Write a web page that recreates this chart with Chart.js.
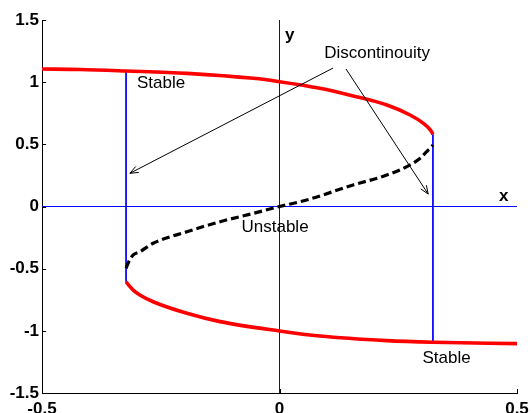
<!DOCTYPE html>
<html>
<head>
<meta charset="utf-8">
<script src="https://cdn.jsdelivr.net/npm/chart.js@4/dist/chart.umd.min.js"></script>
<style>
  html, body { margin: 0; padding: 0; background: #ffffff; }
  #wrap { width: 531px; height: 413px; position: relative; }
</style>
</head>
<body>
<div id="wrap"><canvas id="chart"></canvas></div>
<script>
// Axis ticks
const xTicks = [-0.5, 0, 0.5];
const yTicks = [-1.5, -1, -0.5, 0, 0.5, 1, 1.5];

// Upper stable branch
const upperX = [-0.5, -0.42, -0.323, -0.195, -0.055, 0, 0.085, 0.155, 0.226, 0.275, 0.303, 0.313, 0.320, 0.323];
const upperY = [1.106, 1.102, 1.09, 1.071, 1.031, 1.004, 0.951, 0.889, 0.816, 0.736, 0.669, 0.635, 0.602, 0.58];

// Middle unstable branch
const middleX = [-0.323, -0.318, -0.308, -0.294, -0.266, -0.195, -0.125, -0.055, 0, 0.057, 0.155, 0.226, 0.275, 0.296, 0.313, 0.320, 0.323];
const middleY = [-0.497, -0.45, -0.39, -0.364, -0.296, -0.203, -0.122, -0.055, 0, 0.052, 0.173, 0.253, 0.334, 0.388, 0.454, 0.48, 0.495];

// Lower stable branch
const lowerX = [-0.323, -0.318, -0.308, -0.294, -0.266, -0.195, -0.125, 0, 0.085, 0.226, 0.323, 0.5];
const lowerY = [-0.605, -0.631, -0.672, -0.712, -0.766, -0.859, -0.926, -1.001, -1.042, -1.079, -1.092, -1.103];

// Jump lines at the two fold points
const jumpLeftX = [-0.323, -0.323];
const jumpLeftY = [1.09, -0.605];
const jumpRightX = [0.323, 0.323];
const jumpRightY = [0.58, -1.092];

// Coordinate axes through the origin
const xAxisLineX = [-0.5, 0.5];
const xAxisLineY = [0, 0];
const yAxisLineX = [0, 0];
const yAxisLineY = [-1.5, 1.5];

// Annotation arrows (tail -> head)
const arrowFromX = [0.113, 0.14];
const arrowFromY = [1.114, 1.106];
const arrowToX = [-0.315, 0.313];
const arrowToY = [0.267, 0.10];

// Text annotations
const noteText = ['Stable', 'Discontinouity', 'Unstable', 'Stable', 'y', 'x'];
const noteX = [-0.3, 0.094, -0.08, 0.301, 0.0116, 0.462];
const noteY = [0.993, 1.235, -0.165, -1.219, 1.38, 0.085];
const noteBold = [false, false, false, false, true, true];

const pts = (xs, ys) => xs.map((x, i) => ({ x: x, y: ys[i] }));

const FONT = '"Liberation Sans", Arial, Helvetica, sans-serif';

const lineBase = { showLine: true, pointRadius: 0, pointHoverRadius: 0, fill: false };

const datasets = [];
arrowFromX.forEach((_, i) => {
  datasets.push(Object.assign({}, lineBase, {
    label: 'arrow' + i,
    data: pts([arrowFromX[i], arrowToX[i]], [arrowFromY[i], arrowToY[i]]),
    borderColor: '#000000', borderWidth: 1, order: 0
  }));
});
datasets.push(Object.assign({}, lineBase, {
  label: 'unstable', data: pts(middleX, middleY),
  borderColor: '#000000', borderWidth: 3.2, borderDash: [8, 4],
  cubicInterpolationMode: 'monotone', order: 1
}));
datasets.push(Object.assign({}, lineBase, {
  label: 'upper', data: pts(upperX, upperY),
  borderColor: '#ff0000', borderWidth: 3.6, cubicInterpolationMode: 'monotone', order: 2
}));
datasets.push(Object.assign({}, lineBase, {
  label: 'lower', data: pts(lowerX, lowerY),
  borderColor: '#ff0000', borderWidth: 3.6, cubicInterpolationMode: 'monotone', order: 2
}));
datasets.push(Object.assign({}, lineBase, {
  label: 'jumpLeft', data: pts(jumpLeftX, jumpLeftY),
  borderColor: '#0000ff', borderWidth: 1, order: 3
}));
datasets.push(Object.assign({}, lineBase, {
  label: 'jumpRight', data: pts(jumpRightX, jumpRightY),
  borderColor: '#0000ff', borderWidth: 1, order: 3
}));
datasets.push(Object.assign({}, lineBase, {
  label: 'xAxisLine', data: pts(xAxisLineX, xAxisLineY),
  borderColor: '#0000ff', borderWidth: 1, order: 4
}));
datasets.push(Object.assign({}, lineBase, {
  label: 'yAxisLine', data: pts(yAxisLineX, yAxisLineY),
  borderColor: '#0000ff', borderWidth: 1, order: 4
}));

// Arrowheads, inward tick marks and text notes
const decorations = {
  id: 'decorations',
  afterDatasetsDraw(chart) {
    const ctx = chart.ctx;
    const xs = chart.scales.x, ys = chart.scales.y;
    const area = chart.chartArea;
    ctx.save();

    // open arrowheads
    ctx.strokeStyle = '#000000';
    ctx.lineWidth = 1;
    arrowToX.forEach((_, i) => {
      const x0 = xs.getPixelForValue(arrowFromX[i]), y0 = ys.getPixelForValue(arrowFromY[i]);
      const x1 = xs.getPixelForValue(arrowToX[i]), y1 = ys.getPixelForValue(arrowToY[i]);
      const a = Math.atan2(y1 - y0, x1 - x0);
      const len = 9, spread = 0.38;
      ctx.beginPath();
      ctx.moveTo(x1 - len * Math.cos(a - spread), y1 - len * Math.sin(a - spread));
      ctx.lineTo(x1, y1);
      ctx.lineTo(x1 - len * Math.cos(a + spread), y1 - len * Math.sin(a + spread));
      ctx.stroke();
    });

    // tick marks pointing into the plot
    ctx.beginPath();
    yTicks.forEach(v => {
      const p = Math.round(ys.getPixelForValue(v)) + 0.5;
      ctx.moveTo(area.left, p); ctx.lineTo(area.left + 4, p);
    });
    xTicks.forEach(v => {
      const p = Math.round(xs.getPixelForValue(v)) + 0.5;
      ctx.moveTo(p, area.bottom); ctx.lineTo(p, area.bottom - 4);
    });
    ctx.stroke();

    // notes
    ctx.fillStyle = '#000000';
    ctx.textAlign = 'left';
    ctx.textBaseline = 'middle';
    noteText.forEach((t, i) => {
      ctx.font = (noteBold[i] ? 'bold ' : '') + '17px ' + FONT;
      ctx.fillText(t, xs.getPixelForValue(noteX[i]), ys.getPixelForValue(noteY[i]));
    });
    ctx.restore();
  }
};

new Chart(document.getElementById('chart'), {
  type: 'line',
  data: { datasets: datasets },
  options: {
    responsive: true,
    maintainAspectRatio: false,
    animation: false,
    devicePixelRatio: 1,
    layout: { padding: { top: 20, right: 14, left: 0, bottom: 0 } },
    plugins: { legend: { display: false }, tooltip: { enabled: false } },
    scales: {
      x: {
        type: 'linear', min: -0.5, max: 0.5,
        afterBuildTicks: s => { s.ticks = xTicks.map(v => ({ value: v })); },
        afterFit: s => { s.height = 20; s.paddingLeft = 0; s.paddingRight = 0; },
        ticks: {
          autoSkip: false, maxRotation: 0, padding: 6, color: '#000000',
          font: { family: FONT, size: 17, weight: 'bold' },
          callback: v => String(v)
        },
        grid: { display: false, drawTicks: false },
        border: { display: true, color: '#000000', width: 1 }
      },
      y: {
        type: 'linear', min: -1.5, max: 1.5,
        afterBuildTicks: s => { s.ticks = yTicks.map(v => ({ value: v })); },
        afterFit: s => { s.width = 42; s.paddingTop = 0; s.paddingBottom = 0; },
        ticks: {
          autoSkip: false, padding: 3, color: '#000000',
          font: { family: FONT, size: 17, weight: 'bold' },
          callback: v => String(v)
        },
        grid: { display: false, drawTicks: false },
        border: { display: true, color: '#000000', width: 1 }
      }
    }
  },
  plugins: [decorations]
});
</script>
</body>
</html>
